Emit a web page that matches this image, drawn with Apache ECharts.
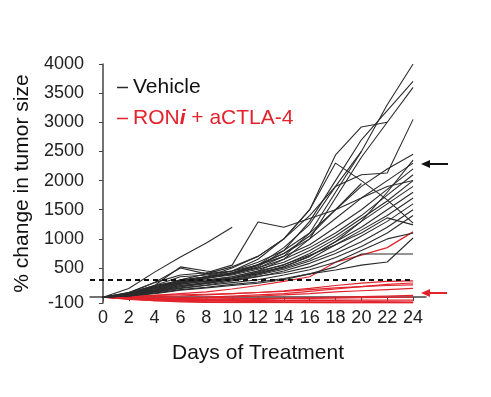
<!DOCTYPE html>
<html>
<head>
<meta charset="utf-8">
<script src="https://cdn.jsdelivr.net/npm/echarts@6/dist/echarts.min.js"></script>
<style>
  html, body { margin: 0; padding: 0; background: #fff; }
  #chart { width: 491px; height: 397px; }
</style>
</head>
<body>
<div id="chart"></div>
<script>
// days of measurement and tick labels
const days = [0, 2, 4, 6, 8, 10, 12, 14, 16, 18, 20, 22, 24];
const xTicks = [0, 2, 4, 6, 8, 10, 12, 14, 16, 18, 20, 22, 24];
const yTicks = [-100, 500, 1000, 1500, 2000, 2500, 3000, 3500, 4000];
const cutoff = 300;

// Vehicle mice (% change in tumor size per day)
const vehicle = [
    [0, 80, 200, 280, 350, 420, 500, 700, 1100, 1800, 2500, 3300, 4000],
    [0, 60, 150, 250, 320, 400, 520, 800, 1300, 2000, 2700, 3200, 3700],
    [0, 50, 120, 220, 280, 350, 450, 650, 1000, 1700, 2400, 3000, 3600],
    [0, 70, 180, 300, 400, 520, 700, 1000, 1500, 2440, 2920, 3000],
    [0, 60, 160, 260, 330, 420, 550, 850, 1250, 1900, 2100, 2130, 3050],
    [0, 60, 170, 280, 350, 450, 650, 1000, 1500, 2300, 2000, 1670, 1270],
    [0, 80, 250, 380, 420, 550, 1290, 1200, 1350, 1500, 1700, 1900, 2000],
    [0, 150, 430, 690, 930, 1200],
    [0, 70, 250, 500, 400, 450, 600, 800, 1100, 1500, 1900, 2200, 2450],
    [0, 60, 200, 520, 450, 400, 550, 750, 1000, 1350, 1700, 2000, 2300],
    [0, 50, 200, 350, 380, 450, 550, 700, 900, 1200, 1500, 1850, 2200],
    [0, 40, 150, 300, 350, 400, 500, 650, 850, 1100, 1400, 1750, 2100],
    [0, 50, 180, 280, 330, 380, 480, 600, 800, 1050, 1350, 1650, 2000],
    [0, 30, 130, 250, 300, 350, 450, 550, 750, 1000, 1300, 1600, 1900],
    [0, 40, 150, 260, 280, 330, 420, 520, 700, 950, 1200, 1500, 1800],
    [0, 30, 100, 200, 250, 320, 400, 500, 650, 900, 1150, 1400, 1700],
    [0, 40, 120, 230, 270, 330, 430, 560, 720, 900, 1100, 1360, 1240],
    [0, 30, 100, 180, 230, 300, 380, 480, 620, 800, 1050, 1300, 1600],
    [0, 25, 90, 160, 210, 280, 350, 450, 580, 750, 950, 1200, 1500],
    [0, 30, 110, 200, 240, 300, 360, 420, 520, 680, 870, 1100, 1400],
    [0, 20, 80, 150, 200, 250, 300, 380, 470, 600, 800, 1000, 1100],
    [0, 20, 70, 130, 170, 220, 260, 320, 400, 466, 550, 603, 1015],
    [0, 20, 60, 120, 160, 200, 240, 300, 400, 520, 740, 740, 740],
    [0, 40, 150, 250, 350, 500, 700, 1000, 1400, 1900, 2500],
    [0, 30, 120, 230, 320, 420, 560, 750, 1050, 1500, 1950],
    [0, 30, 100, 180, 250, 320, 400, 520, 700, 950, 1300, 1800, 2350]
];

// RONi + aCTLA-4 mice
const combo = [
    [0, 10, 30, 60, 90, 140, 200, 270, 350, 600, 720, 850, 1120],
    [0, -10, -20, -10, 0, 20, 40, 60, 100, 140, 180, 220, 243],
    [0, 0, 10, 20, 40, 60, 80, 110, 150, 200, 240, 270, 280],
    [0, -10, -20, -20, -10, 0, 20, 40, 60, 90, 110, 130, 150],
    [0, -20, -40, -50, -50, -40, -30, -20, -10, 0, 10, 20, 30],
    [0, -20, -40, -50, -60, -60, -60, -60, -55, -50, -50, -50, -50],
    [0, -30, -50, -60, -70, -70, -75, -80, -80, -80, -85, -85, -85],
    [0, -30, -60, -70, -80, -85, -90, -90, -90, -95, -95, -95, -95],
    [0, -20, -30, -40, -40, -30, -20, -20, -20, -15, -10, -5, 0],
    [0, -10, -15, -20, -30, -30, -40, -50, -50, -60, -70, -80, -90],
    [0, 10, 30, 40, 50, 60, 80, 100, 130, 160, 180, 200, 210],
    [0, -40, -60, -80, -90, -95, -95, -95, -98, -98, -98, -98, -98]
];

const BLACK = '#2b2b2b';
const RED = '#e3232c';
const FONT = 'Liberation Sans';

function toPairs(values) {
    return values.map((v, i) => [days[i], v]);
}

document.addEventListener('DOMContentLoaded', function () {
    const chart = echarts.init(document.getElementById('chart'));

    const series = [];
    combo.forEach(function (vals) {
        series.push({
            name: 'RONi + aCTLA-4',
            type: 'line',
            data: toPairs(vals),
            symbol: 'none',
            color: RED,
            lineStyle: { width: 1.2, color: RED },
            z: 2
        });
    });
    vehicle.forEach(function (vals) {
        series.push({
            name: 'Vehicle',
            type: 'line',
            data: toPairs(vals),
            symbol: 'none',
            color: BLACK,
            lineStyle: { width: 1.1, color: BLACK },
            z: 3
        });
    });
    // dashed threshold line
    series[0].markLine = {
        silent: true,
        symbol: 'none',
        label: { show: false },
        lineStyle: { color: '#111', width: 2, type: [5, 4] },
        data: [[{ coord: [-1, cutoff] }, { coord: [24, cutoff] }]]
    };

    chart.setOption({
        backgroundColor: '#fff',
        animation: false,
        textStyle: { fontFamily: FONT },
        grid: { left: 90, right: 65, top: 64, bottom: 94 },
        legend: {
            orient: 'vertical',
            left: 112,
            top: 72,
            itemGap: 10,
            icon: 'rect',
            itemWidth: 11,
            itemHeight: 1.5,
            selectedMode: false,
            formatter: function (name) {
                return name === 'Vehicle' ? name : '{t|RON}{i|i}{t| + aCTLA-4}';
            },
            data: [
                { name: 'Vehicle', textStyle: { color: '#111', fontSize: 21, fontFamily: FONT } },
                {
                    name: 'RONi + aCTLA-4',
                    textStyle: {
                        color: RED, fontSize: 21, fontFamily: FONT,
                        rich: {
                            t: { color: RED, fontSize: 21, fontFamily: FONT },
                            i: { color: RED, fontSize: 21, fontFamily: FONT, fontStyle: 'italic', fontWeight: 'bold' }
                        }
                    }
                }
            ]
        },
        xAxis: {
            type: 'value',
            min: -1,
            max: 25,
            name: 'Days of Treatment',
            nameLocation: 'middle',
            nameGap: 40,
            nameTextStyle: { fontSize: 21, color: '#111', fontFamily: FONT },
            splitLine: { show: false },
            axisLine: { lineStyle: { color: '#444', width: 1.5 } },
            axisTick: { customValues: xTicks, length: 4, lineStyle: { color: '#444' } },
            axisLabel: { customValues: xTicks, fontSize: 18, color: '#222', margin: 6, fontFamily: FONT }
        },
        yAxis: {
            type: 'value',
            min: -100,
            max: 4000,
            name: '% change in tumor size',
            nameLocation: 'middle',
            nameGap: 40,
            nameTextStyle: { fontSize: 21, color: '#111', fontFamily: FONT },
            splitLine: { show: false },
            axisLine: { show: true, lineStyle: { color: '#444', width: 1.5 } },
            axisTick: { show: true, customValues: yTicks, length: 4, lineStyle: { color: '#444' } },
            axisLabel: {
                customValues: yTicks, fontSize: 18, color: '#222', margin: 6, fontFamily: FONT,
                formatter: function (v) { return String(v); }
            }
        },
        graphic: [
            { type: 'line', shape: { x1: 428, y1: 164, x2: 448, y2: 164 }, style: { stroke: '#111', lineWidth: 2 } },
            { type: 'polygon', shape: { points: [[421, 164], [430, 160], [430, 168]] }, style: { fill: '#111' } },
            { type: 'line', shape: { x1: 428, y1: 293, x2: 447, y2: 293 }, style: { stroke: RED, lineWidth: 2 } },
            { type: 'polygon', shape: { points: [[421, 293], [430, 289], [430, 297]] }, style: { fill: RED } }
        ],
        series: series
    });
});
</script>
</body>
</html>
